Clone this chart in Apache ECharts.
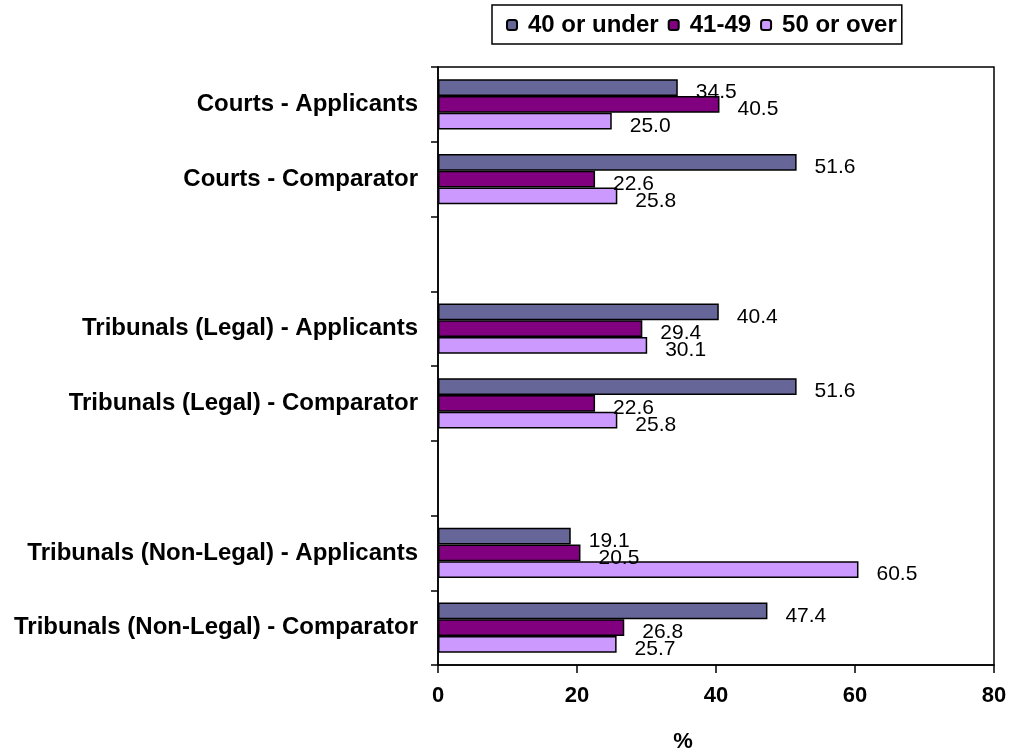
<!DOCTYPE html>
<html>
<head>
<meta charset="utf-8">
<script src="https://cdn.jsdelivr.net/npm/echarts@6/dist/echarts.min.js"></script>
<style>
  html, body { margin: 0; padding: 0; background: #fff; }
  #chart { width: 1013px; height: 753px; }
</style>
</head>
<body>
<div id="chart"></div>
<script>
// Age profile by group (%); blank entries are spacer rows between groups
const categories = [
  'Courts - Applicants',
  'Courts - Comparator',
  '',
  'Tribunals (Legal) - Applicants',
  'Tribunals (Legal) - Comparator',
  '',
  'Tribunals (Non-Legal) - Applicants',
  'Tribunals (Non-Legal) - Comparator'
];
const seriesNames = ['40 or under', '41-49', '50 or over'];
const under40 = [34.5, 51.6, null, 40.4, 51.6, null, 19.1, 47.4];
const from41to49 = [40.5, 22.6, null, 29.4, 22.6, null, 20.5, 26.8];
const over50 = [25.0, 25.8, null, 30.1, 25.8, null, 60.5, 25.7];
const xTicks = { min: 0, max: 80, interval: 20 };

const colors = ['#666699', '#800080', '#CC99FF'];
const FONT = 'Arial, "Liberation Sans", sans-serif';

const chart = echarts.init(document.getElementById('chart'), null, { renderer: 'canvas' });

function makeSeries(name, values, color) {
  return {
    name: name,
    type: 'bar',
    data: values,
    barGap: '0%',
    barCategoryGap: '33%',
    itemStyle: { color: color, borderColor: '#000', borderWidth: 1.5 },
    label: {
      show: true,
      position: 'right',
      distance: 18,
      offset: [0, 5],
      color: '#000',
      fontFamily: FONT,
      fontSize: 21,
      formatter: p => (p.value == null ? '' : Number(p.value).toFixed(1))
    },
    emphasis: { disabled: true },
    animation: false
  };
}

chart.setOption({
  backgroundColor: '#fff',
  animation: false,
  textStyle: { fontFamily: FONT },
  legend: {
    data: seriesNames,
    left: 492,
    top: 5,
    orient: 'horizontal',
    borderColor: '#000',
    borderWidth: 1.5,
    padding: [8, 5, 7, 14],
    itemGap: 9,
    itemWidth: 10,
    itemHeight: 10,
    textStyle: {
      fontFamily: FONT, fontSize: 24, fontWeight: 'bold', color: '#000',
      padding: [0, 0, 0, 6]
    }
  },
  grid: {
    left: 438,
    right: 19,
    top: 67,
    bottom: 88,
    show: true,
    borderColor: '#000',
    borderWidth: 1.5,
    containLabel: false,
    outerBoundsMode: 'none'
  },
  xAxis: {
    type: 'value',
    min: xTicks.min,
    max: xTicks.max,
    interval: xTicks.interval,
    name: '%',
    nameLocation: 'middle',
    nameGap: 66,
    nameTextStyle: {
      fontFamily: FONT, fontSize: 22, fontWeight: 'bold', color: '#000',
      padding: [0, 66, 0, 0]
    },
    axisLine: { show: true, lineStyle: { color: '#000', width: 1.5 } },
    axisTick: { show: true, length: 8, lineStyle: { color: '#000', width: 1.5 } },
    axisLabel: { fontFamily: FONT, fontSize: 22, fontWeight: 'bold', color: '#000', margin: 20 },
    splitLine: { show: false }
  },
  yAxis: {
    type: 'category',
    data: categories,
    inverse: true,
    axisLine: { show: true, lineStyle: { color: '#000', width: 1.5 } },
    axisTick: { show: true, length: 7, alignWithLabel: false, lineStyle: { color: '#000', width: 1.5 } },
    axisLabel: { fontFamily: FONT, fontSize: 24, fontWeight: 'bold', color: '#000', margin: 20, interval: 0 },
    splitLine: { show: false }
  },
  series: [
    makeSeries(seriesNames[0], under40, colors[0]),
    makeSeries(seriesNames[1], from41to49, colors[1]),
    makeSeries(seriesNames[2], over50, colors[2])
  ]
});
</script>
</body>
</html>
